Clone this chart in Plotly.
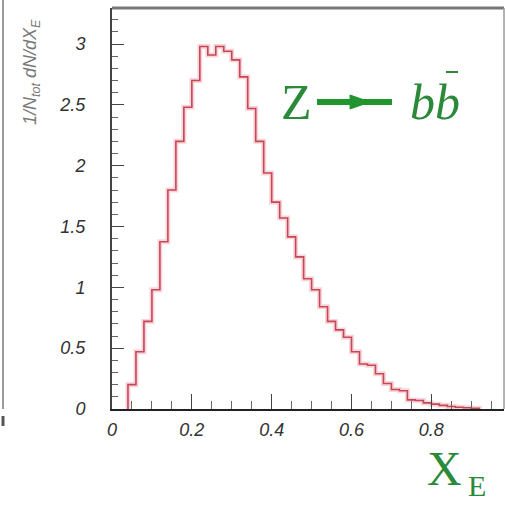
import plotly.graph_objects as go

# Histogram data: 1/N_tot dN/dX_E for Z -> b bbar
bin_start = 0.04
bin_width = 0.02
counts = [0.20, 0.47, 0.72, 0.98, 1.375, 1.80, 2.20, 2.48, 2.70, 2.98,
          2.91, 2.98, 2.94, 2.87, 2.73, 2.47, 2.20, 1.94, 1.70, 1.57,
          1.415, 1.25, 1.07, 0.98, 0.84, 0.72, 0.65, 0.59, 0.47, 0.37,
          0.36, 0.29, 0.21, 0.16, 0.15, 0.075, 0.07, 0.05, 0.04, 0.03,
          0.02, 0.015, 0.01, 0.005]

x_tickvals = [0, 0.2, 0.4, 0.6, 0.8]
x_ticktext = ["0", "0.2", "0.4", "0.6", "0.8"]
y_tickvals = [0, 0.5, 1, 1.5, 2, 2.5, 3]
y_ticktext = ["0", "0.5", "1", "1.5", "2", "2.5", "3"]

# build step outline
xs, ys = [bin_start], [0.0]
for i, c in enumerate(counts):
    lo = bin_start + i * bin_width
    hi = lo + bin_width
    xs += [lo, hi]
    ys += [c, c]
xs.append(bin_start + len(counts) * bin_width)
ys.append(0.0)

fig = go.Figure()
fig.add_trace(go.Scatter(x=xs, y=ys, mode="lines",
                         line=dict(color="rgba(245,160,170,0.45)", width=5),
                         hoverinfo="skip", showlegend=False))
fig.add_trace(go.Scatter(x=xs, y=ys, mode="lines",
                         line=dict(color="#c24a58", width=1.6),
                         showlegend=False))

tickfont = dict(family="Liberation Sans", size=18, color="#333333", style="italic")

L, T, W, H = 112, 8, 392, 401


def px(x):
    return (x - L) / W


def py(y):
    return (T + H - y) / H


fig.update_layout(
    width=505, height=506,
    margin=dict(l=L, r=505 - L - W, t=T, b=506 - T - H),
    paper_bgcolor="white", plot_bgcolor="white",
    xaxis=dict(range=[0, 0.982], showgrid=False, zeroline=False,
               showline=True, linecolor="#222222", linewidth=2,
               ticks="inside", ticklen=15, tickwidth=1.3, tickcolor="#444",
               tickvals=x_tickvals, ticktext=x_ticktext, tickfont=tickfont,
               ticklabelstandoff=3,
               minor=dict(ticks="inside", ticklen=8, tickwidth=1.2,
                          tickcolor="#666", dtick=0.05, showgrid=False)),
    yaxis=dict(range=[0, 3.296], showgrid=False, zeroline=False,
               showline=True, linecolor="#444444", linewidth=2,
               ticks="inside", ticklen=12, tickwidth=1.3, tickcolor="#444",
               tickvals=y_tickvals, ticktext=y_ticktext, tickfont=tickfont,
               ticklabelstandoff=21,
               minor=dict(ticks="inside", ticklen=6, tickwidth=1.2,
                          tickcolor="#666", dtick=0.1, showgrid=False)),
)

# top and right frame lines (lighter grey than the axes)
fig.add_shape(type="line", xref="paper", yref="paper", x0=0, x1=1, y0=1, y1=1,
              line=dict(color="#777777", width=3))
fig.add_shape(type="line", xref="paper", yref="paper", x0=1, x1=1, y0=0, y1=1,
              line=dict(color="#999999", width=1.5))

green = "#2a8a3a"
arrow_green = "#22962e"
# Process label: Z -> b bbar
fig.add_annotation(xref="paper", yref="paper", x=px(296), y=py(102),
                   text="Z", showarrow=False, xanchor="center", yanchor="middle",
                   font=dict(family="Liberation Serif", size=50, color=green))
fig.add_shape(type="line", xref="paper", yref="paper",
              x0=px(317), x1=px(392), y0=py(102), y1=py(102),
              line=dict(color=arrow_green, width=6))
fig.add_shape(type="path", xref="paper", yref="paper",
              path=f"M {px(350)} {py(95)} L {px(370)} {py(102)} L {px(350)} {py(109)} Z",
              fillcolor=arrow_green, line=dict(color=arrow_green, width=1))
fig.add_annotation(xref="paper", yref="paper", x=px(435), y=py(102),
                   text="<i>bb</i>", showarrow=False, xanchor="center", yanchor="middle",
                   font=dict(family="Liberation Serif", size=50, color=green))
fig.add_shape(type="line", xref="paper", yref="paper",
              x0=px(446), x1=px(458), y0=py(72), y1=py(72),
              line=dict(color=green, width=2))

# x-axis title X_E
fig.add_annotation(xref="paper", yref="paper", x=px(444), y=py(468),
                   text="X", showarrow=False, xanchor="center", yanchor="middle",
                   font=dict(family="Liberation Serif", size=48, color=green))
fig.add_annotation(xref="paper", yref="paper", x=px(477), y=py(486),
                   text="E", showarrow=False, xanchor="center", yanchor="middle",
                   font=dict(family="Liberation Serif", size=30, color=green))

# y-axis title
fig.add_annotation(xref="paper", yref="paper", x=px(31), y=py(72),
                   text="1/N<sub>tot</sub> dN/dX<sub>E</sub>", showarrow=False, textangle=-90,
                   xanchor="center", yanchor="middle",
                   font=dict(family="Liberation Sans", size=18, color="#777777", style="italic"))

# neighbouring panel edge at the far left
fig.add_shape(type="line", xref="paper", yref="paper",
              x0=px(3), x1=px(3), y0=0, y1=py(0),
              line=dict(color="#9a9a9a", width=2))
fig.add_shape(type="line", xref="paper", yref="paper",
              x0=px(3), x1=px(3), y0=py(416), y1=py(426),
              line=dict(color="#555555", width=3))

fig.write_html("out.html")
